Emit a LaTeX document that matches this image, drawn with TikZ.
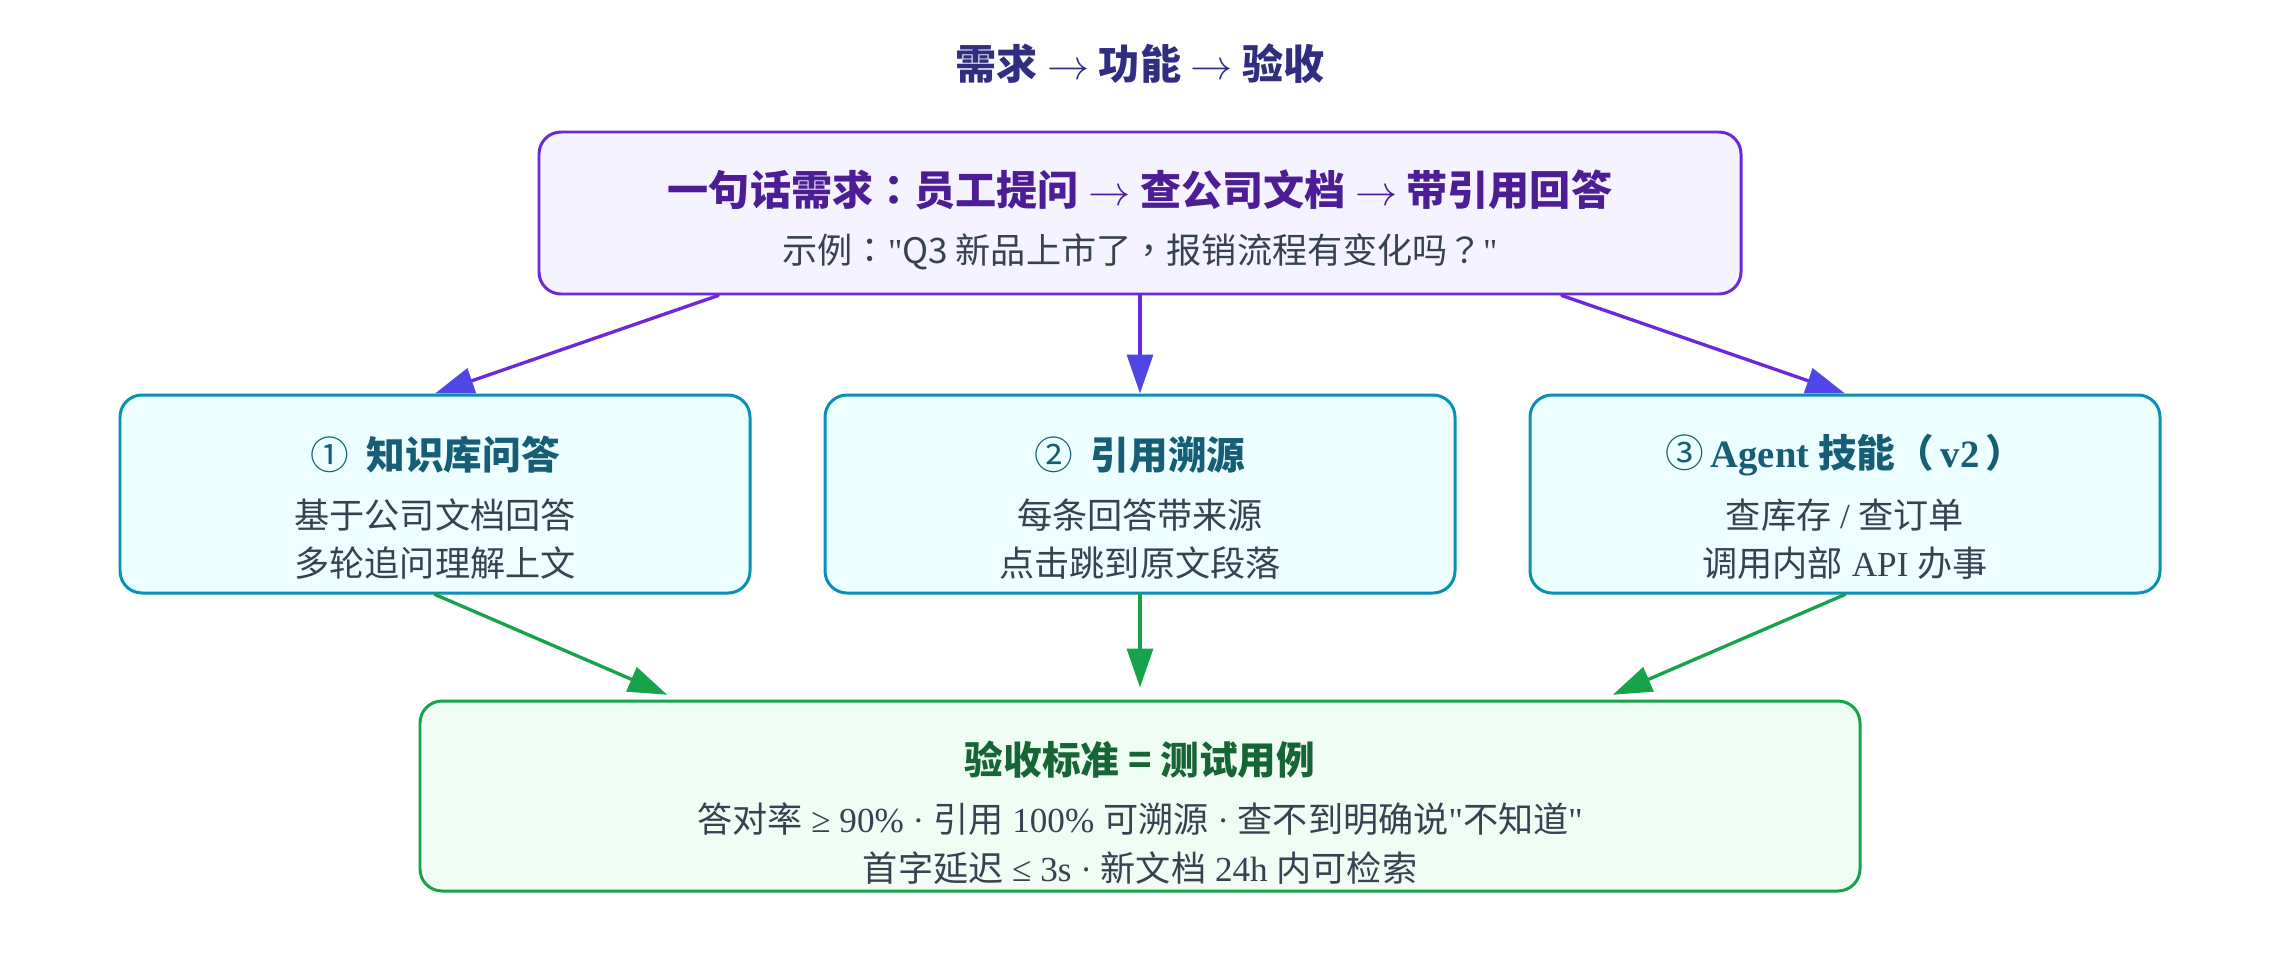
\documentclass[tikz,border=0pt]{standalone}
\usepackage{fontspec}
\setmainfont{Noto Sans CJK SC}
\newfontfamily\latin{Liberation Serif}
\newfontfamily\tcpunct{Noto Sans CJK TC}
\usepackage{xcolor}
\usetikzlibrary{arrows.meta,calc,positioning}

\definecolor{titlec}{HTML}{312E81}
\definecolor{reqline}{HTML}{6D28D9}
\definecolor{reqfill}{HTML}{F5F3FF}
\definecolor{reqtext}{HTML}{4C1D95}
\definecolor{headc}{HTML}{4F46E5}
\definecolor{featline}{HTML}{0891B2}
\definecolor{featfill}{HTML}{ECFEFF}
\definecolor{feattext}{HTML}{155E75}
\definecolor{accline}{HTML}{16A34A}
\definecolor{accfill}{HTML}{F0FDF4}
\definecolor{acctext}{HTML}{166534}
\definecolor{bodytext}{HTML}{374151}

\newcommand{\thinarrow}{\ $\rightarrow$\ }
\newcommand{\tcp}[1]{{\tcpunct #1}}

\begin{document}
\begin{tikzpicture}[line cap=round,line join=round,x=1cm,y=1cm,
    box/.style={draw, rounded corners=0.22cm, line width=0.85pt, inner sep=0pt},
    reqbox/.style={box, draw=reqline, fill=reqfill, minimum width=12.02cm, minimum height=1.62cm},
    featbox/.style={box, draw=featline, fill=featfill, minimum width=6.30cm, minimum height=1.98cm},
    accbox/.style={box, draw=accline, fill=accfill, minimum width=14.40cm, minimum height=1.90cm},
    diagtitle/.style={inner sep=0pt, text=titlec, font=\fontsize{11.7}{14}\selectfont\bfseries},
    reqtitle/.style={inner sep=0pt, text=reqtext, font=\fontsize{11.7}{14}\selectfont\bfseries},
    feattitle/.style={inner sep=0pt, text=feattext, font=\fontsize{11}{13}\selectfont\bfseries},
    acctitle/.style={inner sep=0pt, text=acctext, font=\fontsize{11}{13}\selectfont\bfseries},
    bodyline/.style={inner sep=0pt, text=bodytext, font=\fontsize{10}{12}\selectfont},
    reqarrow/.style={draw=reqline, line width=0.95pt, -{Triangle[length=0.39cm,width=0.26cm,color=headc]}},
    accarrow/.style={draw=accline, line width=0.95pt, shorten >=0.12cm, -{Triangle[length=0.39cm,width=0.26cm]}}]
\useasboundingbox (0,0) rectangle (22.8,9.6);

\node[diagtitle] (title) at (11.40,8.96) {需求\thinarrow 功能\thinarrow 验收};

\node[reqbox] (req) at (11.40,7.47) {};
\node[reqtitle] (reqt) at ([yshift=0.23cm]req.center) {一句话需求\tcp{：}员工提问\thinarrow 查公司文档\thinarrow 带引用回答};
\node[bodyline] (reqs) at ([yshift=-0.39cm]req.center) {示例\tcp{：}{\latin"}Q3 新品上市了\tcp{，}报销流程有变化吗\tcp{？}{\latin"}};

\node[featbox] (kb) at (4.35,4.66) {};
\node[featbox] (cite) at (11.40,4.66) {};
\node[featbox] (agent) at (18.45,4.66) {};

\node[feattitle] (kbt) at ([yshift=0.39cm]kb.center) {{\mdseries ①}\ \ 知识库问答};
\node[bodyline] (kba) at ([yshift=-0.21cm]kb.center) {基于公司文档回答};
\node[bodyline] (kbb) at ([yshift=-0.69cm]kb.center) {多轮追问理解上文};

\node[feattitle] (citet) at ([yshift=0.39cm]cite.center) {{\mdseries ②}\ \ 引用溯源};
\node[bodyline] (citea) at ([yshift=-0.21cm]cite.center) {每条回答带来源};
\node[bodyline] (citeb) at ([yshift=-0.69cm]cite.center) {点击跳到原文段落};

\node[feattitle] (agentt) at ([yshift=0.39cm]agent.center) {{\mdseries ③}\,{\latin Agent} 技能\tcp{（}\,{\latin v2}\,\tcp{）}};
\node[bodyline] (agenta) at ([yshift=-0.21cm]agent.center) {查库存{\latin\ /\ }查订单};
\node[bodyline] (agentb) at ([yshift=-0.69cm]agent.center) {调用内部{\latin\ API\ }办事};

\node[accbox] (acc) at (11.40,1.64) {};
\node[acctitle] (acct) at ([yshift=0.36cm]acc.center) {验收标准 = 测试用例};
\node[bodyline] (acca) at ([yshift=-0.23cm]acc.center) {答对率{\latin\ ≥ 90\% · }引用{\latin\ 100\% }可溯源{\latin\ · }查不到明确说{\latin"}不知道{\latin"}};
\node[bodyline] (accb) at ([yshift=-0.72cm]acc.center) {首字延迟{\latin\ ≤ 3s · }新文档{\latin\ 24h }内可检索};

\coordinate (reqL) at ($(req.south west)!0.15!(req.south east)$);
\coordinate (reqR) at ($(req.south west)!0.85!(req.south east)$);
\coordinate (accL) at ($(acc.north west)!0.18!(acc.north east)$);
\coordinate (accR) at ($(acc.north west)!0.82!(acc.north east)$);

\draw[reqarrow] (reqL) -- (kb.north);
\draw[reqarrow] (req.south) -- (cite.north);
\draw[reqarrow] (reqR) -- (agent.north);
\draw[accarrow] (kb.south) -- (accL);
\draw[accarrow] (cite.south) -- (acc.north);
\draw[accarrow] (agent.south) -- (accR);
\end{tikzpicture}
\end{document}
